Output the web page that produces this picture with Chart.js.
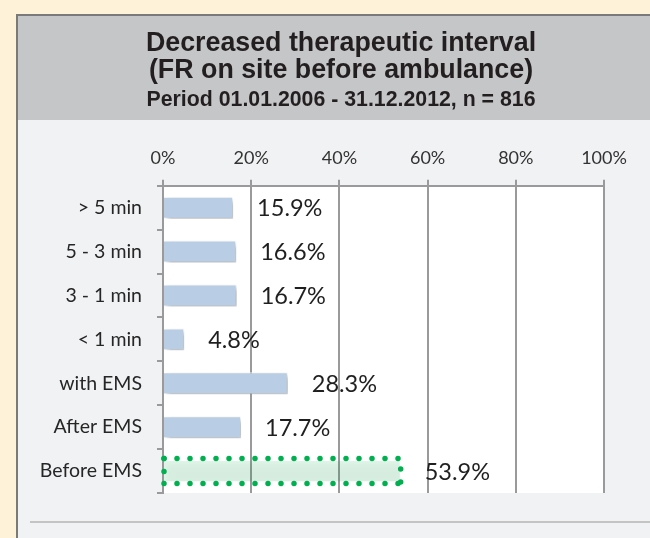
<!DOCTYPE html>
<html>
<head>
<meta charset="utf-8">
<script src="https://cdn.jsdelivr.net/npm/chart.js@4.4.0/dist/chart.umd.min.js"></script>
<style>
  html, body { margin: 0; padding: 0; background: #fef3d8; }
  #wrap { width: 650px; height: 538px; }
</style>
</head>
<body>
<div id="wrap"><canvas id="chart" width="650" height="538"></canvas></div>
<script>
// Chart data
const categories = ['> 5 min', '5 - 3 min', '3 - 1 min', '< 1 min', 'with EMS', 'After EMS', 'Before EMS'];
const percentValues = [15.9, 16.6, 16.7, 4.8, 28.3, 17.7, 53.9];
const tickValues = [0, 20, 40, 60, 80, 100];
const titleLines = ['Decreased therapeutic interval', '(FR on site before ambulance)'];
const subtitleText = 'Period 01.01.2006 - 31.12.2012, n = 816';
const highlightIndex = 6; // the dotted green bar

const gridGrey = '#9a9a9c';
const barBlue = '#b9cde5';
const dotGreen = '#00b050';

// Cream page, grey header band, light panel and white plot area.
const backdrop = {
  id: 'backdrop',
  // the header is centred on the grey panel, not on the plot
  afterLayout(chart) {
    chart.boxes.forEach(box => {
      if (box.options && box.options.text !== undefined) {
        box.left += 29;
        box.right += 29;
      }
    });
  },
  beforeDraw(chart) {
    const ctx = chart.ctx;
    const area = chart.chartArea;
    const w = chart.width, h = chart.height;
    ctx.save();
    ctx.fillStyle = '#fef3d8';
    ctx.fillRect(0, 0, w, h);
    ctx.fillStyle = '#f1f2f4';
    ctx.fillRect(17, 15, w - 17, h - 15);
    ctx.fillStyle = '#c5c6c8';
    ctx.fillRect(17, 15, w - 17, 105);
    ctx.strokeStyle = '#7a7a7c';
    ctx.lineWidth = 2;
    ctx.beginPath();
    ctx.moveTo(17, h);
    ctx.lineTo(17, 15);
    ctx.lineTo(w, 15);
    ctx.stroke();
    ctx.strokeStyle = '#b4b4b6';
    ctx.lineWidth = 1.5;
    ctx.beginPath();
    ctx.moveTo(30, 522);
    ctx.lineTo(w, 522);
    ctx.stroke();
    ctx.fillStyle = '#ffffff';
    ctx.fillRect(area.left, area.top, area.right - area.left, area.bottom - area.top);
    ctx.restore();
  }
};

// Soft drop shadow under the bars, then the dotted outline and the value labels.
const barExtras = {
  id: 'barExtras',
  beforeDatasetsDraw(chart) {
    const ctx = chart.ctx;
    ctx.save();
    ctx.shadowColor = 'rgba(0, 0, 0, 0.3)';
    ctx.shadowBlur = 5;
    ctx.shadowOffsetX = 3;
    ctx.shadowOffsetY = 3;
  },
  afterDatasetsDraw(chart) {
    const ctx = chart.ctx;
    ctx.restore();

    const meta = chart.getDatasetMeta(0);
    meta.data.forEach((bar, i) => {
      const p = bar.getProps(['x', 'y', 'base', 'height'], true);

      if (i === highlightIndex) {
        ctx.save();
        ctx.strokeStyle = dotGreen;
        ctx.lineWidth = 5.5;
        ctx.lineCap = 'round';
        ctx.setLineDash([0, 13]);
        const top = p.y - p.height / 2 - 1.5;
        const bottom = p.y + p.height / 2 + 1.5;
        ctx.beginPath();
        ctx.moveTo(p.base, top);
        ctx.lineTo(p.x, top);
        ctx.lineTo(p.x, bottom);
        ctx.stroke();
        ctx.beginPath();
        ctx.moveTo(p.base, bottom);
        ctx.lineTo(p.x, bottom);
        ctx.stroke();
        ctx.beginPath();
        ctx.moveTo(p.base, top);
        ctx.lineTo(p.base, bottom);
        ctx.stroke();
        ctx.restore();
      }

      ctx.save();
      ctx.font = '23.5px Lato';
      ctx.fillStyle = '#1f1f1f';
      ctx.textAlign = 'left';
      ctx.textBaseline = 'middle';
      ctx.fillText(percentValues[i].toFixed(1) + '%', p.x + 24, p.y + 1);
      ctx.restore();
    });
  }
};

const barColors = categories.map((c, i) => i === highlightIndex ? 'rgba(0, 176, 80, 0.13)' : barBlue);
const barBorders = categories.map((c, i) => i === highlightIndex ? 'rgba(0, 0, 0, 0)' : 'rgba(255, 255, 255, 0.8)');

new Chart(document.getElementById('chart'), {
  type: 'bar',
  data: {
    labels: categories,
    datasets: [{
      data: percentValues,
      backgroundColor: barColors,
      borderColor: barBorders,
      borderWidth: 1,
      categoryPercentage: 1,
      barPercentage: 0.5
    }]
  },
  options: {
    indexAxis: 'y',
    responsive: false,
    animation: false,
    devicePixelRatio: 1,
    layout: { padding: { top: 0, left: 20, right: 46, bottom: 45 } },
    plugins: {
      legend: { display: false },
      tooltip: { enabled: false },
      title: {
        display: true,
        text: titleLines,
        color: '#231f20',
        font: { family: 'Liberation Sans', weight: 'bold', size: 26.8, lineHeight: 1.02 },
        padding: { top: 30, bottom: 2.5 }
      },
      subtitle: {
        display: true,
        text: subtitleText,
        color: '#231f20',
        font: { family: 'Liberation Sans', weight: 'bold', size: 21.3, lineHeight: 1.2 },
        padding: { top: 0, bottom: 0 }
      }
    },
    scales: {
      x: {
        position: 'top',
        min: 0,
        max: 100,
        afterBuildTicks: scale => { scale.ticks = tickValues.map(v => ({ value: v })); },
        afterFit: scale => { scale.height = 73; },
        ticks: {
          callback: v => v + '%',
          color: '#333333',
          font: { family: 'Lato', size: 18 },
          padding: 11
        },
        grid: { color: gridGrey, lineWidth: 2, tickLength: 6 },
        border: { color: gridGrey, width: 2 }
      },
      y: {
        afterFit: scale => { scale.width = 143; },
        ticks: {
          color: '#262626',
          font: { family: 'Lato', size: 19.5 },
          padding: 15
        },
        grid: { offset: true, drawOnChartArea: false, color: gridGrey, lineWidth: 2, tickLength: 6 },
        border: { color: gridGrey, width: 2 }
      }
    }
  },
  plugins: [backdrop, barExtras]
});
</script>
</body>
</html>
